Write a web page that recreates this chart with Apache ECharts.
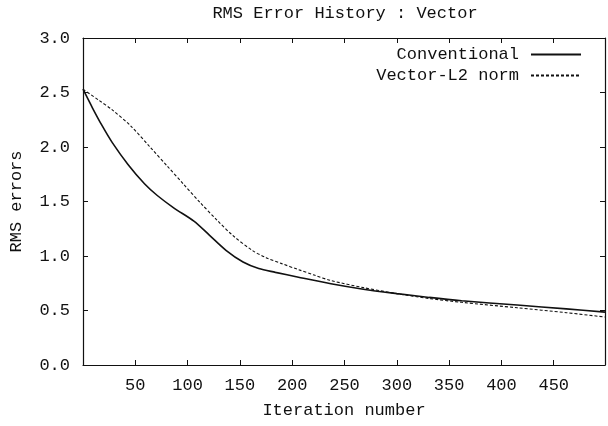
<!DOCTYPE html>
<html>
<head>
<meta charset="utf-8">
<script src="https://cdn.jsdelivr.net/npm/echarts@6/dist/echarts.min.js"></script>
<style>
  html, body { margin: 0; padding: 0; background: #fff; }
  #chart { width: 608px; height: 426px; }
</style>
</head>
<body>
<div id="chart"></div>
<script>
// RMS error per iteration for the two update schemes
const convIter = [0, 9, 18, 28, 43, 59, 71, 87, 106, 121, 137, 153, 168, 184, 206, 237, 268, 300, 331, 362, 415, 462, 499];
const convRms  = [2.53, 2.36, 2.20, 2.04, 1.84, 1.66, 1.555, 1.44, 1.32, 1.19, 1.05, 0.945, 0.885, 0.85, 0.805, 0.745, 0.695, 0.655, 0.62, 0.59, 0.55, 0.515, 0.485];

const vecIter = [0, 15, 28, 46, 65, 81, 96, 112, 128, 143, 162, 175, 190, 206, 221, 237, 268, 300, 331, 362, 415, 462, 499];
const vecRms  = [2.53, 2.43, 2.34, 2.19, 1.99, 1.82, 1.66, 1.49, 1.33, 1.19, 1.05, 0.985, 0.93, 0.875, 0.825, 0.775, 0.71, 0.655, 0.61, 0.575, 0.525, 0.48, 0.44];

const seriesNames = ['Conventional', 'Vector-L2 norm'];
const xTickStep = 50;
const yTickStep = 0.5;

const FONT = 'Liberation Mono';
const INK = '#111';

const zip = (xs, ys) => xs.map((x, i) => [x, ys[i]]);

const chart = echarts.init(document.getElementById('chart'));

const tickStyle = { show: true, inside: true, length: 5, lineStyle: { color: INK, width: 1 } };
const lineStyleAxis = { show: true, onZero: false, lineStyle: { color: INK, width: 1.2 } };

chart.setOption({
  animation: false,
  backgroundColor: '#fff',
  title: {
    text: 'RMS Error History : Vector',
    left: 340, top: 0, textAlign: 'center',
    textStyle: { fontFamily: FONT, fontSize: 17, fontWeight: 'normal', color: INK }
  },
  legend: {
    orient: 'vertical',
    right: 21, top: 41,
    align: 'right',
    itemWidth: 50, itemHeight: 12, itemGap: 4,
    data: seriesNames,
    itemStyle: { opacity: 0 },
    textStyle: { fontFamily: FONT, fontSize: 17, color: INK, padding: [0, 7, 0, 0] }
  },
  grid: { left: 74, right: 2, top: 38, bottom: 61, containLabel: false },
  xAxis: [{
    type: 'value', min: 0, max: 499, interval: xTickStep,
    name: 'Iteration number', nameLocation: 'middle', nameGap: 37,
    nameTextStyle: { fontFamily: FONT, fontSize: 17, color: INK },
    axisLine: lineStyleAxis, axisTick: tickStyle, splitLine: { show: false },
    axisLabel: {
      fontFamily: FONT, fontSize: 17, color: INK, margin: 12,
      formatter: v => (v > 0 && v % xTickStep === 0) ? String(v) : ''
    }
  }, {
    type: 'value', min: 0, max: 499, interval: xTickStep, position: 'top',
    axisLine: lineStyleAxis, axisTick: tickStyle, axisLabel: { show: false }, splitLine: { show: false }
  }],
  yAxis: [{
    type: 'value', min: 0, max: 3, interval: yTickStep,
    name: 'RMS errors', nameLocation: 'middle', nameGap: 58, nameRotate: 90,
    nameTextStyle: { fontFamily: FONT, fontSize: 17, color: INK },
    axisLine: lineStyleAxis, axisTick: tickStyle, splitLine: { show: false },
    axisLabel: { fontFamily: FONT, fontSize: 17, color: INK, margin: 13, formatter: v => v.toFixed(1) }
  }, {
    type: 'value', min: 0, max: 3, interval: yTickStep, position: 'right',
    axisLine: lineStyleAxis, axisTick: tickStyle, axisLabel: { show: false }, splitLine: { show: false }
  }],
  series: [{
    name: seriesNames[0], type: 'line', data: zip(convIter, convRms),
    smooth: 0.3, symbol: 'none', color: INK,
    lineStyle: { color: INK, width: 1.6, type: 'solid' }
  }, {
    name: seriesNames[1], type: 'line', data: zip(vecIter, vecRms),
    smooth: 0.3, symbol: 'none', color: INK,
    lineStyle: { color: INK, width: 1.1, type: [3, 2] }
  }]
});
</script>
</body>
</html>
